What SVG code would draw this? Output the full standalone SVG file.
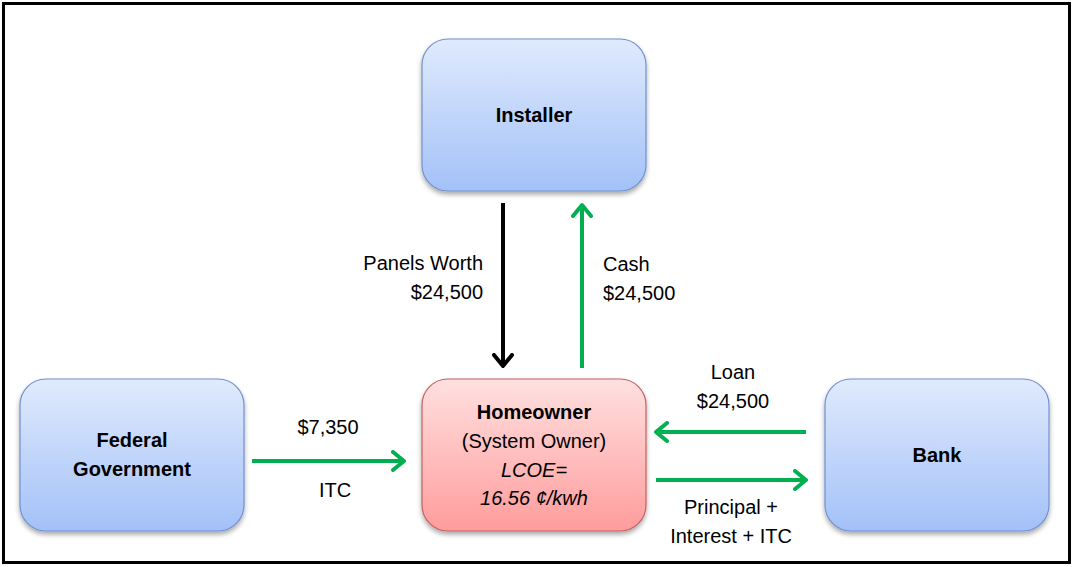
<svg xmlns="http://www.w3.org/2000/svg" width="1074" height="567" viewBox="0 0 1074 567">
<defs>
<linearGradient id="gBlue" x1="0" y1="0" x2="0" y2="1">
<stop offset="0" stop-color="#e0eafd"/>
<stop offset="1" stop-color="#a3c1f8"/>
</linearGradient>
<linearGradient id="gRed" x1="0" y1="0" x2="0" y2="1">
<stop offset="0" stop-color="#ffe0e0"/>
<stop offset="1" stop-color="#ff9c9c"/>
</linearGradient>
<filter id="sh" x="-10%" y="-10%" width="120%" height="125%">
<feGaussianBlur in="SourceAlpha" stdDeviation="2.5"/>
<feOffset dx="0" dy="3" result="b"/>
<feComponentTransfer><feFuncA type="linear" slope="0.35"/></feComponentTransfer>
<feMerge><feMergeNode/><feMergeNode in="SourceGraphic"/></feMerge>
</filter>
<marker id="mg" markerWidth="16" markerHeight="22" refX="13" refY="11" orient="auto" markerUnits="userSpaceOnUse">
<polyline points="2,2 13,11 2,20" fill="none" stroke="#00b050" stroke-width="4" stroke-linecap="round" stroke-linejoin="round"/>
</marker>
<marker id="mk" markerWidth="16" markerHeight="22" refX="13" refY="11" orient="auto" markerUnits="userSpaceOnUse">
<polyline points="2,2 13,11 2,20" fill="none" stroke="#000" stroke-width="4" stroke-linecap="round" stroke-linejoin="round"/>
</marker>
</defs>
<style>
.blue{fill:url(#gBlue);stroke:#6f91cf;stroke-width:1.2;filter:url(#sh)}
.red{fill:url(#gRed);stroke:#c5615e;stroke-width:1.2;filter:url(#sh)}
text{font-family:"Liberation Sans",Arial,sans-serif;font-size:20px;fill:#000}
.b{font-weight:bold}
.i{font-style:italic}
.c{text-anchor:middle}
.g{stroke:#00b050;stroke-width:4;fill:none;marker-end:url(#mg)}
.k{stroke:#000;stroke-width:4;fill:none;marker-end:url(#mk)}
</style>
<rect x="0" y="0" width="1074" height="567" fill="#fff"/>
<rect x="3.5" y="3.5" width="1066" height="559" fill="none" stroke="#000" stroke-width="3"/>
<g id="installer">
<rect class="blue" x="422" y="39" width="224" height="152" rx="26"/>
<text class="b c" x="534" y="122">Installer</text>
</g>
<g id="homeowner">
<rect class="red" x="422" y="379" width="224" height="152" rx="26"/>
<text class="b c" x="534" y="419">Homeowner</text>
<text class="c" x="534" y="448">(System Owner)</text>
<text class="i c" x="534" y="477">LCOE=</text>
<text class="i c" x="534" y="505">16.56 ¢/kwh</text>
</g>
<g id="federal">
<rect class="blue" x="20" y="379" width="224" height="152" rx="26"/>
<text class="b c" x="132" y="447">Federal</text>
<text class="b c" x="132" y="476">Government</text>
</g>
<g id="bank">
<rect class="blue" x="825" y="379" width="224" height="152" rx="26"/>
<text class="b c" x="937" y="462">Bank</text>
</g>
<g id="connectors">
<line class="k" x1="503" y1="203" x2="503" y2="366"/>
<line class="g" x1="582" y1="368" x2="582" y2="205"/>
<line class="g" x1="252" y1="461" x2="404" y2="461"/>
<line class="g" x1="806" y1="432" x2="656" y2="432"/>
<line class="g" x1="656" y1="480" x2="806" y2="480"/>
</g>
<g id="labels">
<text x="483" y="270" text-anchor="end">Panels Worth</text>
<text x="483" y="299" text-anchor="end">$24,500</text>
<text x="603" y="271">Cash</text>
<text x="603" y="300">$24,500</text>
<text class="c" x="328" y="434">$7,350</text>
<text class="c" x="335" y="497">ITC</text>
<text class="c" x="733" y="379">Loan</text>
<text class="c" x="733" y="408">$24,500</text>
<text class="c" x="731" y="514">Principal +</text>
<text class="c" x="731" y="543">Interest + ITC</text>
</g>
</svg>
